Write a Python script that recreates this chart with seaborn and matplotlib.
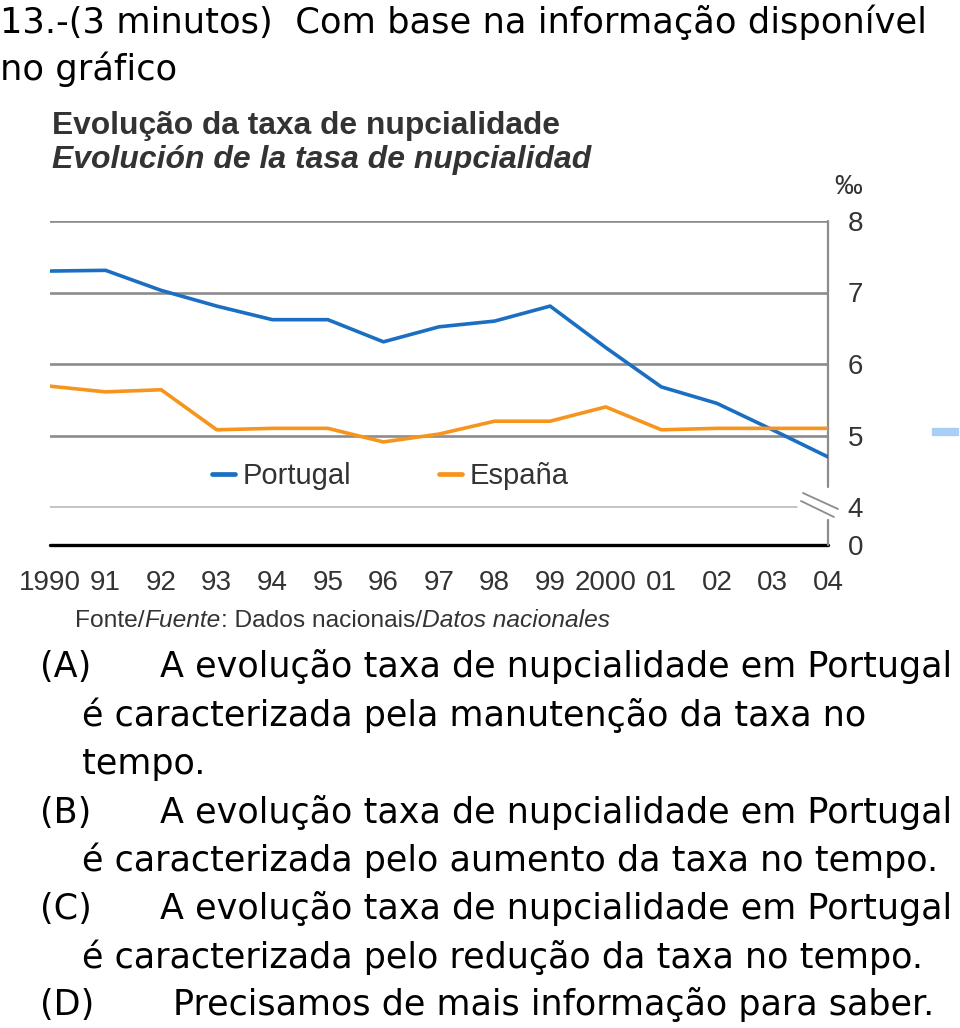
import matplotlib
matplotlib.use("Agg")
import matplotlib.pyplot as plt
from matplotlib.lines import Line2D
from matplotlib.patches import Rectangle
import seaborn as sns
import pandas as pd

# ---------------- data ----------------
years = list(range(1990, 2005))
year_labels = ["1990", "91", "92", "93", "94", "95", "96", "97", "98", "99",
               "2000", "01", "02", "03", "04"]
portugal = [7.30, 7.31, 7.03, 6.81, 6.62, 6.62, 6.31, 6.52, 6.60, 6.81,
            6.23, 5.68, 5.45, 5.08, 4.70]
espana = [5.69, 5.61, 5.64, 5.08, 5.10, 5.10, 4.91, 5.02, 5.20, 5.20,
          5.40, 5.08, 5.10, 5.10, 5.10]
series_names = ["Portugal", "España"]
series_colors = ["#1b6fc2", "#f7941d"]
ytick_values = [4, 5, 6, 7, 8]
ytick_labels = ["0", "4", "5", "6", "7", "8"]

title_pt = "Evolução da taxa de nupcialidade"
title_es = "Evolución de la tasa de nupcialidad"
question = ["13.-(3 minutos)  Com base na informação disponível", "no gráfico"]
options = [
    ("(A)", "A evolução taxa de nupcialidade em Portugal"),
    (None, "é caracterizada pela manutenção da taxa no"),
    (None, "tempo."),
    ("(B)", "A evolução taxa de nupcialidade em Portugal"),
    (None, "é caracterizada pelo aumento da taxa no tempo."),
    ("(C)", "A evolução taxa de nupcialidade em Portugal"),
    (None, "é caracterizada pelo redução da taxa no tempo."),
    ("(D)", "Precisamos de mais informação para saber."),
]

# ---------------- figure ----------------
W, H = 960, 1028
sns.set_theme(style="white")
plt.rcParams["font.family"] = ["Liberation Sans", "DejaVu Sans"]
fig = plt.figure(figsize=(W / 100, H / 100), dpi=100)
fig.patch.set_facecolor("white")
renderer = fig.canvas.get_renderer()

# axes geometry (pixels)
AX_L, AX_R, AX_T, AX_B = 50, 828, 221, 545
UNIT = 71.5  # px per 1 permille
Y0 = 4 - (AX_B - 507) / UNIT  # position of the "0" baseline below the break
ax = fig.add_axes([AX_L / W, 1 - AX_B / H, (AX_R - AX_L) / W, (AX_B - AX_T) / H])

df = pd.DataFrame({
    "year": years * 2,
    "value": portugal + espana,
    "country": [series_names[0]] * len(years) + [series_names[1]] * len(years),
})

# grid lines
for v in [5, 6, 7, 8]:
    ax.axhline(v, color="#8c8c8c", lw=1.9, zorder=1)
ax.axhline(4, xmax=(797 - AX_L) / (AX_R - AX_L), color="#b4b4b4", lw=1.1, zorder=1)
ax.axhline(Y0, color="black", lw=2.4, zorder=1, clip_on=False)

sns.lineplot(data=df, x="year", y="value", hue="country",
             palette=dict(zip(series_names, series_colors)),
             lw=2.6, ax=ax, zorder=3, legend=True)

ax.set_xlim(years[0], years[-1])
ax.set_ylim(Y0, 8)
for s in ax.spines.values():
    s.set_visible(False)

# right axis line with break
ax.plot([years[-1], years[-1]], [8, 8 - (487 - AX_T) / UNIT], color="#8c8c8c",
        lw=1.6, clip_on=False, zorder=2)
ax.plot([years[-1], years[-1]], [8 - (520 - AX_T) / UNIT, Y0], color="#8c8c8c",
        lw=1.6, clip_on=False, zorder=2)
for (x0, y0, x1, y1) in [(803, 493, 838, 509), (801, 501, 834, 517)]:
    fig.add_artist(Line2D([x0 / W, x1 / W], [1 - y0 / H, 1 - y1 / H],
                          color="#8c8c8c", lw=1.3, transform=fig.transFigure))

ax.yaxis.tick_right()
ax.set_yticks([Y0] + ytick_values)
ax.set_yticklabels(ytick_labels)
ax.set_xticks(years)
ax.set_xticklabels(year_labels)
ax.tick_params(axis="y", length=0, pad=14, labelsize=20, labelcolor="#333333")
ax.tick_params(axis="x", length=0, pad=18, labelsize=20, labelcolor="#333333")
ax.set_xlabel("")
ax.set_ylabel("")

# legend
handles, labels = ax.get_legend_handles_labels()
leg = ax.legend(handles, labels, loc="center", bbox_to_anchor=(0.437, 0.213),
                ncol=2, frameon=False, fontsize=21, handlelength=0.8,
                handletextpad=0.25, columnspacing=3.0, labelcolor="#333333")
for h in leg.legend_handles:
    h.set_linewidth(3.4)

# per-mille label
fig.text(848 / W, 1 - 187 / H, "‰", fontsize=20, color="#333333",
         ha="center", va="center")


def fit(x, y, s, target_w, **kw):
    t = fig.text(x / W, 1 - y / H, s, va="baseline", **kw)
    w = t.get_window_extent(renderer).width
    t.set_fontsize(t.get_fontsize() * target_w / w)
    return t


# chart titles
fit(52, 134, title_pt, 508, fontsize=18, fontweight="bold", color="#333333")
fit(52, 168, title_es, 538, fontsize=18, fontweight="bold", fontstyle="italic",
    color="#333333")

# source line with mixed italics
src_parts = [("Fonte/", "normal"), ("Fuente", "italic"), (": Dados nacionais/", "normal"),
             ("Datos nacionales", "italic")]
base = 12.0
tmp = []
for txt, st in src_parts:
    tt = fig.text(0, 0, txt, fontsize=base, fontstyle=st)
    tmp.append(tt.get_window_extent(renderer).width)
    tt.remove()
scale = 535 / sum(tmp)
fs_src = base * scale
xcur = 75
for txt, st in src_parts:
    tt = fig.text(xcur / W, 1 - 627 / H, txt, fontsize=fs_src, fontstyle=st,
                  color="#333333", va="baseline")
    xcur += tt.get_window_extent(renderer).width

# question text (Tahoma-like)
qfont = ["DejaVu Sans"]
q1 = fit(0, 33, question[0], 925, fontsize=20, family=qfont, color="black")
fig.text(0, 1 - 80 / H, question[1], fontsize=q1.get_fontsize(), family=qfont,
         color="black", va="baseline")

# options
ref = fit(82, 872, options[4][1], 858, fontsize=20, family=qfont, color="black")
ofs = ref.get_fontsize()
ref.remove()
baselines = [677, 726, 774, 823, 871, 919, 968, 1015]
for (lab, txt), yb in zip(options, baselines):
    if lab is not None:
        fig.text(40 / W, 1 - yb / H, lab, fontsize=ofs, family=qfont, color="black",
                 va="baseline")
        x0 = 173 if lab == "(D)" else 160
    else:
        x0 = 82
    fig.text(x0 / W, 1 - yb / H, txt, fontsize=ofs, family=qfont, color="black",
             va="baseline")

# small light-blue mark at the right edge
fig.add_artist(Rectangle((932 / W, 1 - 435 / H), 26 / W, 7 / H, color="#a9cff4",
                         transform=fig.transFigure))

fig.savefig("out.png", dpi=100)
